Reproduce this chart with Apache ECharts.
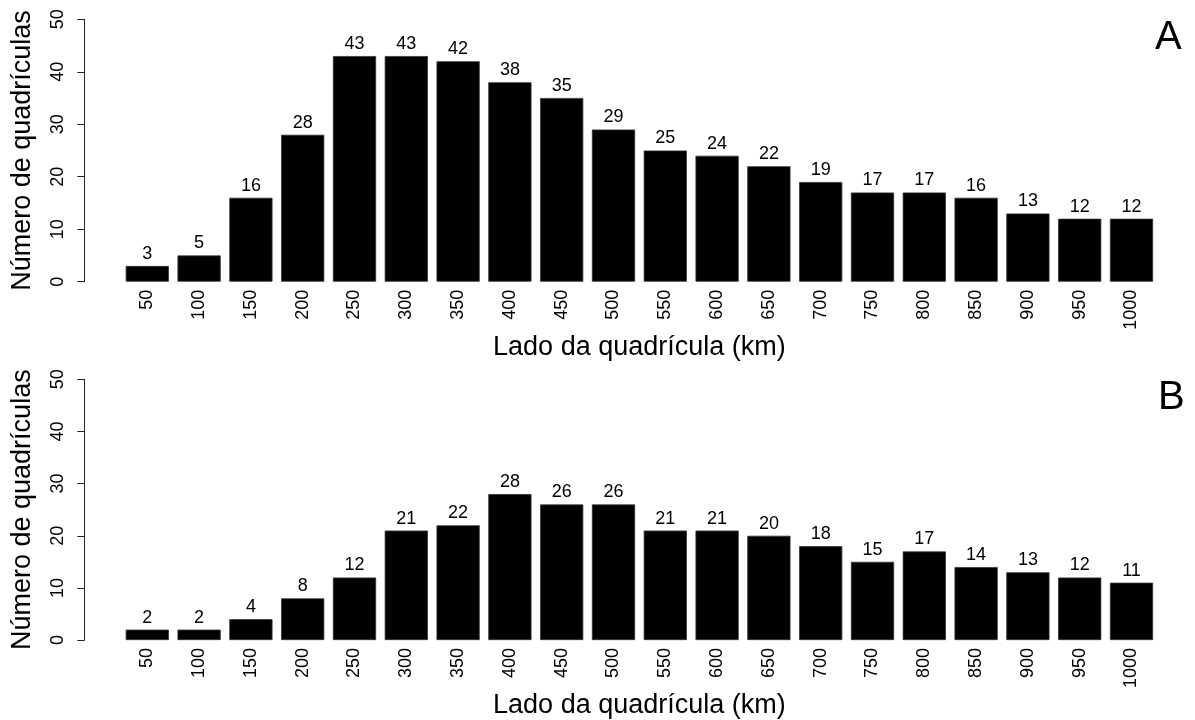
<!DOCTYPE html>
<html>
<head>
<meta charset="utf-8">
<script src="https://cdn.jsdelivr.net/npm/echarts@6/dist/echarts.min.js"></script>
<style>
html,body{margin:0;padding:0;background:#fff;}
#chart{width:1195px;height:720px;}
</style>
</head>
<body>
<div id="chart"></div>
<script>
var categories = ['50','100','150','200','250','300','350','400','450','500','550','600','650','700','750','800','850','900','950','1000'];
var valuesA = [3,5,16,28,43,43,42,38,35,29,25,24,22,19,17,17,16,13,12,12];
var valuesB = [2,2,4,8,12,21,22,28,26,26,21,21,20,18,15,17,14,13,12,11];
var yTicks = [0,10,20,30,40,50];
var panelLabels = ['A','B'];
var xAxisName = 'Lado da quadrícula (km)';
var yAxisName = 'Número de quadrículas';

var FONT = 'Liberation Sans';
var grids = [
  {left: 121.4, width: 1036, top: 19.3, height: 262.4},
  {left: 121.4, width: 1036, top: 379.3, height: 262.4}
];

function xAxisFor(i) {
  return {
    type: 'category', gridIndex: i, data: categories,
    axisLine: {show: false}, axisTick: {show: false},
    axisLabel: {rotate: 90, margin: 8, fontFamily: FONT, fontSize: 18, color: '#000', interval: 0},
    name: xAxisName, nameLocation: 'middle', nameGap: 48,
    nameTextStyle: {fontFamily: FONT, fontSize: 27, color: '#000'}
  };
}
function yAxisFor(i) {
  return {
    type: 'value', gridIndex: i, min: yTicks[0], max: yTicks[yTicks.length - 1], interval: 10,
    offset: 37,
    splitLine: {show: false},
    axisLine: {show: true, lineStyle: {color: '#222', width: 1}},
    axisTick: {show: true, length: 7, lineStyle: {color: '#222', width: 1}},
    axisLabel: {rotate: 90, margin: 17, fontFamily: FONT, fontSize: 18, color: '#000'},
    name: yAxisName, nameLocation: 'middle', nameGap: 48,
    nameTextStyle: {fontFamily: FONT, fontSize: 27, color: '#000'}
  };
}
function seriesFor(i, vals) {
  return {
    type: 'bar', xAxisIndex: i, yAxisIndex: i, data: vals,
    barCategoryGap: '16.6%',
    itemStyle: {color: '#000', borderColor: '#333', borderWidth: 0.8},
    label: {show: true, position: 'top', distance: 3, fontFamily: FONT, fontSize: 18, color: '#000'},
    silent: true
  };
}

var chart = echarts.init(document.getElementById('chart'), null, {renderer: 'canvas'});
chart.setOption({
  animation: false,
  backgroundColor: '#fff',
  title: [
    {text: panelLabels[0], left: 1155, top: 18, padding: 0, textStyle: {fontFamily: FONT, fontSize: 40, fontWeight: 'normal', color: '#000'}},
    {text: panelLabels[1], left: 1158, top: 378, padding: 0, textStyle: {fontFamily: FONT, fontSize: 40, fontWeight: 'normal', color: '#000'}}
  ],
  grid: grids,
  xAxis: [xAxisFor(0), xAxisFor(1)],
  yAxis: [yAxisFor(0), yAxisFor(1)],
  series: [seriesFor(0, valuesA), seriesFor(1, valuesB)]
});
</script>
</body>
</html>
